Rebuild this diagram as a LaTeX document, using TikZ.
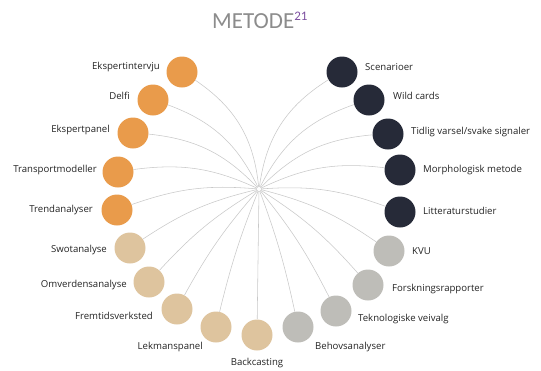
\documentclass[tikz,border=0pt]{standalone}
\usepackage{fontspec}
\setmainfont{Open Sans}
\newfontfamily\titlefont{Carlito}
\definecolor{cOra}{RGB}{233,155,75}
\definecolor{cTan}{RGB}{222,196,158}
\definecolor{cNavy}{RGB}{38,42,56}
\definecolor{cGray}{RGB}{190,189,184}
\definecolor{cLine}{RGB}{200,200,200}
\definecolor{cTxt}{RGB}{35,35,35}
\definecolor{cTitle}{RGB}{140,140,140}
\definecolor{cSup}{RGB}{125,80,160}
\begin{document}
\begin{tikzpicture}[x=1pt,y=-1pt,
  dot/.style={circle,minimum size=31pt,inner sep=0pt},
  ora/.style={dot,fill=cOra},
  tan/.style={dot,fill=cTan},
  navy/.style={dot,fill=cNavy},
  gry/.style={dot,fill=cGray},
  lab/.style={font=\fontsize{9.6}{11}\selectfont,text=cTxt,inner sep=0pt},
  labl/.style={lab,anchor=mid east},
  labr/.style={lab,anchor=mid west},
  conn/.style={draw=cLine,line width=0.55pt}]
\useasboundingbox (0,0) rectangle (541,370);
% title
\node[anchor=base west,inner sep=0pt,text=cTitle,font=\titlefont\fontsize{23}{26}\selectfont] (title) at (212,28)
  {METODE\raisebox{8pt}{\fontsize{13}{14}\selectfont\color{cSup}21}};
% hub
\node[circle,draw=cLine,fill=white,minimum size=5pt,inner sep=0pt,line width=0.5pt] (hub) at (259,189) {};
% circles
\node[ora] (c1) at (182,72) {};
\node[ora] (c2) at (153,100) {};
\node[ora] (c3) at (133,133) {};
\node[ora] (c4) at (118,172) {};
\node[ora] (c5) at (117,210) {};
\node[tan] (c6) at (130,248) {};
\node[tan] (c7) at (149,282) {};
\node[tan] (c8) at (177,309) {};
\node[tan] (c9) at (216,327) {};
\node[tan] (c10) at (257,335) {};
\node[gry] (c11) at (298,327) {};
\node[gry] (c12) at (336,311) {};
\node[gry] (c13) at (368,285) {};
\node[gry] (c14) at (389,251) {};
\node[navy] (c15) at (400,212) {};
\node[navy] (c16) at (400,170) {};
\node[navy] (c17) at (388,134) {};
\node[navy] (c18) at (369,100) {};
\node[navy] (c19) at (342,72) {};
% connectors
\foreach \c/\b in {c1/25,c2/22,c3/20,c4/16,c5/12,c6/10,c7/8,c8/6,c9/4}
  \path[conn] (hub) to[bend right=\b] (\c);
\path[conn] (hub) -- (c10);
\foreach \c/\b in {c19/25,c18/22,c17/20,c16/16,c15/12,c14/10,c13/8,c12/6,c11/4}
  \path[conn] (hub) to[bend left=\b] (\c);
% labels
\node[labl] (l1) at (160,67) {Ekspertintervju};
\node[labl] (l2) at (130,97) {Delfi};
\node[labl] (l3) at (110,130) {Ekspertpanel};
\node[labl] (l4) at (97,170) {Transportmodeller};
\node[labl] (l5) at (93,210) {Trendanalyser};
\node[labl] (l6) at (107,250) {Swotanalyse};
\node[labl] (l7) at (127,285) {Omverdensanalyse};
\node[labl] (l8) at (153,317) {Fremtidsverksted};
\node[labl] (l9) at (203,347) {Lekmanspanel};
\node[lab,anchor=mid] (l10) at (257,363) {Backcasting};
\node[labr] (l11) at (315,347) {Behovsanalyser};
\node[labr] (l12) at (358,319) {Teknologiske veivalg};
\node[labr] (l13) at (392,289) {Forskningsrapporter};
\node[labr] (l14) at (412,252) {KVU};
\node[labr] (l15) at (423,212) {Litteraturstudier};
\node[labr] (l16) at (423,170) {Morphologisk metode};
\node[labr] (l17) at (411,132) {Tidlig varsel/svake signaler};
\node[labr] (l18) at (393,97) {Wild cards};
\node[labr] (l19) at (365,68) {Scenarioer};
\end{tikzpicture}
\end{document}
